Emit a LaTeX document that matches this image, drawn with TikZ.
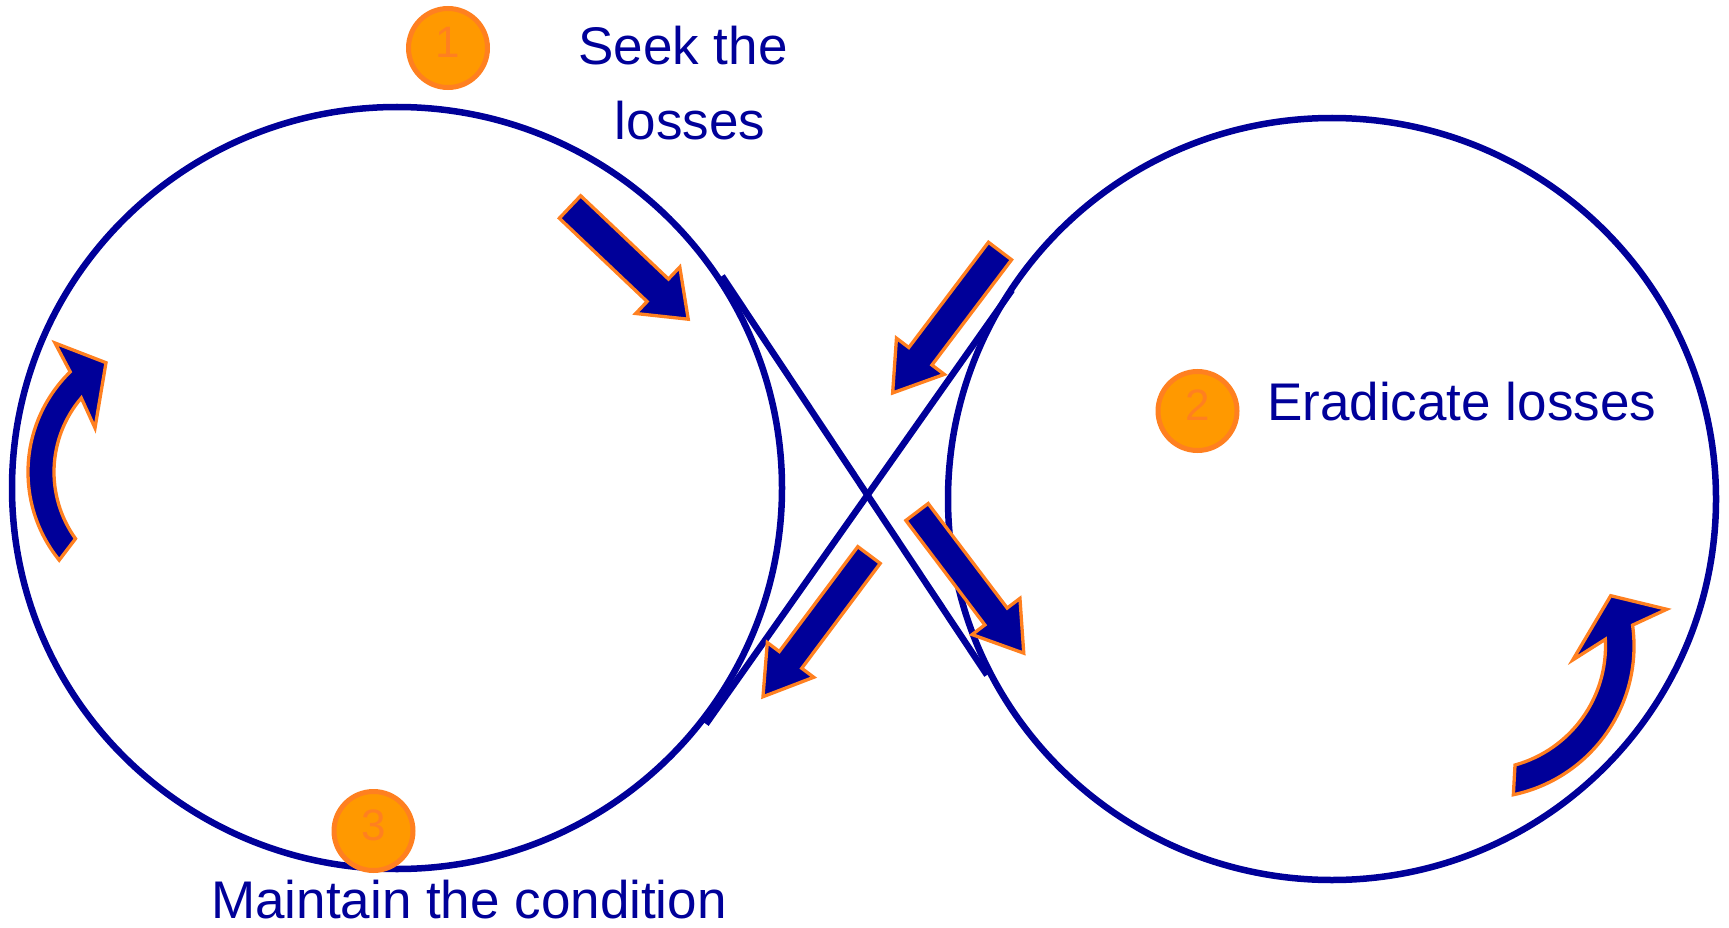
\documentclass[tikz,border=0pt]{standalone}
\usepackage{fontspec}
\setmainfont{Liberation Sans}
\usetikzlibrary{calc}
\definecolor{navy}{RGB}{0,0,153}
\definecolor{orangefill}{RGB}{255,153,0}
\definecolor{orangeline}{RGB}{255,128,32}
\tikzset{
  ring/.style={draw=navy,line width=6.5pt},
  flow/.style={draw=navy,line width=6.5pt},
  arrowbody/.style={fill=navy,draw=orangeline,line width=3.3pt,line join=miter},
  numcirc/.style={circle,fill=orangefill,draw=orangeline,line width=5pt,minimum size=79pt,inner sep=0pt},
  numtext/.style={text=orangeline,font=\fontsize{44}{44}\selectfont,inner sep=0pt},
  txt/.style={text=navy,font=\fontsize{53}{60}\selectfont,inner sep=0pt},
  pics/barrow/.style args={#1/#2/#3/#4}{code={
     \path[arrowbody] (0,{-#2/2}) -- ({#1-#4},{-#2/2}) -- ({#1-#4},{-#3/2}) -- (#1,0)
       -- ({#1-#4},{#3/2}) -- ({#1-#4},{#2/2}) -- (0,{#2/2}) -- cycle;
  }}
}
\begin{document}
\begin{tikzpicture}[x=1pt,y=-1pt]
\useasboundingbox (0,0) rectangle (1729,928);
% big loops
\draw[ring] (397,488) ellipse[x radius=385, y radius=381];
\draw[ring] (1332,499) ellipse[x radius=384, y radius=381];
% crossing lines
\coordinate (a1) at (722,276);
\coordinate (a2) at (987,675);
\coordinate (b1) at (706,724);
\coordinate (b2) at (1012,290);
\draw[flow] (a1) -- (a2);
\draw[flow] (b1) -- (b2);
% straight block arrows
\pic[rotate=-43.5] at (570,207) {barrow=163/31/64/42};
\pic[rotate=-127.1] at (1000,251) {barrow=178/29/60/46};
\pic[rotate=-52.9] at (917,512) {barrow=177/28/60/46};
\pic[rotate=-126.8] at (869,555) {barrow=177/28/58/46};
% curved arrows
\coordinate (lc) at (168,472);
\path[arrowbody] ($(lc)+(141:140)$) arc[start angle=141, end angle=225.7, radius=140]
  -- (55,343) -- (106,362.7) -- (95,428)
  -- ($(lc)+(220.5:114)$) arc[start angle=220.5, end angle=144.2, radius=114] -- cycle;
\coordinate (rc) at (1482,646);
\path[arrowbody] ($(rc)+(78.1:152)$) arc[start angle=78.1, end angle=-7.9, radius=152]
  -- (1666.7,609.3) -- (1610.7,595.7) -- (1572.7,660)
  -- ($(rc)+(-3.1:123.5)$) arc[start angle=-3.1, end angle=74.5, radius=123.5] -- cycle;
% numbered circles
\node[numcirc] (c1) at (448,48) {};
\node[numtext] (t1) at ($(c1)+(0,-5.5)$) {1};
\node[numcirc] (c2) at (1197.5,411) {};
\node[numtext] (t2) at ($(c2)+(0,-5.5)$) {2};
\node[numcirc] (c3) at (373.5,831) {};
\node[numtext] (t3) at ($(c3)+(0,-5.5)$) {3};
% labels
\node[txt,anchor=base] (seek1) at (683,65) {Seek the};
\node[txt,anchor=base] (seek2) at (690,140) {losses};
\node[txt,anchor=base west] (erad) at (1267,420) {Eradicate losses};
\node[txt,anchor=base west] (maint) at (211,918) {Maintain the condition};
\end{tikzpicture}
\end{document}
